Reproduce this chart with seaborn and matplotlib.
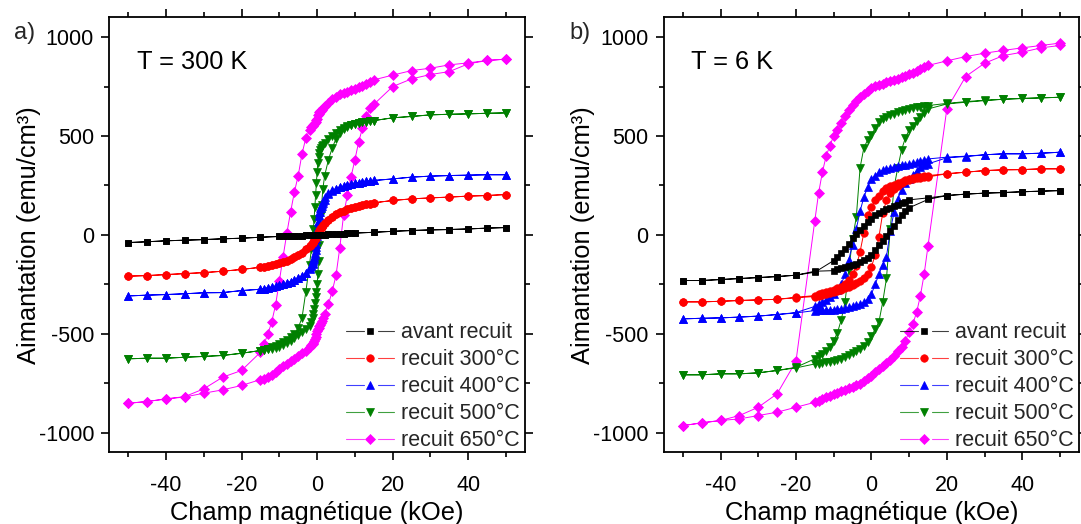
import numpy as np
import matplotlib
matplotlib.use("Agg")
import matplotlib.pyplot as plt
from matplotlib.ticker import MultipleLocator
from matplotlib.legend_handler import HandlerBase
from matplotlib.lines import Line2D
import seaborn as sns

nan = np.nan

# ---------------- field grids (kOe), descending order ----------------
H_A = [50, 45, 40, 35, 30, 25, 20, 15,
       14, 13, 12, 11, 10, 9, 8, 7, 6, 5, 4, 3, 2,
       1.5,
       1.2, 1.0, 0.8, 0.6, 0.4, 0.2, 0.0, -0.2, -0.4, -0.6, -0.8, -1.0, -1.2,
       -1.5,
       -2, -3, -4, -5, -6, -7, -8, -9, -10, -11, -12, -13, -14,
       -15, -20, -25, -30, -35, -40, -45, -50]

H_B = [50, 45, 40, 35, 30, 25, 20, 15,
       14, 13, 12, 11, 10, 9, 8, 7, 6, 5, 4, 3, 2, 1,
       0,
       -1, -2, -3, -4, -5, -6, -7, -8, -9, -10, -11, -12, -13, -14,
       -15, -20, -25, -30, -35, -40, -45, -50]

labels = ["avant recuit", "recuit 300°C", "recuit 400°C", "recuit 500°C", "recuit 650°C"]

# ---------------- panel a) T = 300 K  (emu/cm3) ----------------
# "down" follows H_A ; "up" follows H_A reversed (ascending field)
a_black_down = [37, 34, 30, 27, 25, 22, 18, 13,
                nan, nan, nan, nan, 9, 8, 7, 6, 5, 4, 3, 2.5, 1.8,
                1.3,
                1.1, 0.9, 0.7, 0.5, 0.3, 0.1, 0, -0.2, -0.4, -0.6, -0.8, -1, -1.1,
                -1.4,
                -1.8, -2.5, -3.3, -4.1, -5, -5.8, -6.6, -7.4, -8.2, nan, nan, nan, nan,
                -12, -17, -20, -24, -27, -30, -35, -39]
a_black_up = [-39, -35, -30, -27, -24, -20, -17, -12,
              nan, nan, nan, nan, -8, -7.4, -6.6, -5.8, -5, -4.1, -3.3, -2.5, -1.8,
              -1.4,
              -1.1, -1, -0.8, -0.6, -0.4, -0.2, 0, 0.1, 0.3, 0.5, 0.7, 0.9, 1.1,
              1.3,
              1.8, 2.5, 3, 4, 5, 6, 7, 8, 9, nan, nan, nan, nan,
              13, 18, 22, 25, 27, 30, 34, 37]

a_red_down = [204, 199, 196, 191, 187, 182, 174, 162,
              158, 155, 151, 146, 141, 135, 129, 122, 114, 103, 91, 76, 60,
              50,
              42, 36, 29, 22, 15, 7, 0, -7, -14, -21, -28, -35, -41,
              -50,
              -56, -72, -90, -103, -113, -121, -130, -137, -143, -149, -154, -158, -161,
              -164, -175, -184, -191, -196, -201, -206, -209]
a_red_up = [-209, -206, -201, -196, -191, -184, -175, -164,
            -161, -158, -154, -149, -143, -137, -130, -121, -113, -103, -90, -72, -58,
            -50,
            -42, -36, -29, -22, -15, -7, 0, 7, 14, 21, 28, 35, 41,
            49,
            59, 76, 91, 103, 114, 122, 129, 135, 141, 146, 151, 155, 158,
            162, 174, 182, 187, 191, 196, 199, 204]

a_blue_down = [304, 304, 302, 300, 297, 292, 283, 275,
               272, 270, 267, 264, 260, 256, 251, 246, 240, 233, 225, 210, 190,
               172,
               158, 147, 135, 118, 95, 65, 25, -20, -60, -90, -112, -128, -140,
               -155,
               -170, -192, -208, -220, -228, -237, -244, -250, -255, -260, -264, -268, -272,
               -275, -282, -292, -293, -298, -302, -305, -309]
a_blue_up = [-309, -305, -302, -298, -293, -292, -282, -275,
             -272, -268, -264, -260, -255, -250, -244, -237, -228, -220, -208, -194, -172,
             -158,
             -145, -133, -120, -102, -78, -45, -5, 38, 72, 98, 118, 135, 147,
             160,
             178, 205, 222, 232, 240, 246, 251, 256, 260, 264, 267, 270, 273,
             275, 283, 292, 297, 300, 302, 304, 304]

a_green_down = [617, 615, 612, 610, 607, 599, 592, 578,
                576, 573, 570, 566, 562, 556, 550, 543, 530, 517, 502, 485, 465,
                455,
                448, 440, 430, 415, 395, 365, 320, 260, 200, 140, 80, 30, -20,
                -70,
                -150, -290, -420, -470, -500, -515, -530, -540, -553, -560, -568, -575, -580,
                -585, -599, -610, -615, -619, -624, -624, -627]
a_green_up = [-627, -624, -624, -619, -615, -610, -599, -585,
              -582, -578, -575, -570, -565, -558, -548, -535, -520, -505, -490, -477, -460,
              -440,
              -420, -400, -375, -345, -315, -290, -250, -200, -130, -50, 30, 100, 150,
              230,
              300, 380, 440, 486, 515, 535, 548, 556, 562, 566, 570, 573, 576,
              578, 592, 599, 607, 610, 612, 615, 617]

a_pink_down = [889, 882, 870, 860, 843, 831, 808, 784,
               772, 763, 755, 746, 738, 731, 724, 717, 710, 699, 686, 668, 650,
               640,
               632, 628, 624, 620, 612, 604, 588, 580, 572, 566, 561, 556, 552,
               545,
               528, 488, 410, 300, 218, 118, 10, -110, -235, -355, -440, -500, -550,
               -594, -686, -720, -779, -818, -830, -843, -852]
a_pink_up = [-852, -843, -830, -820, -801, -784, -762, -732,
             -727, -720, -708, -693, -680, -665, -652, -640, -626, -613, -600, -586, -568,
             -558,
             -550, -545, -537, -528, -518, -502, -486, -478, -470, -462, -455, -445, -435,
             -420,
             -400, -350, -285, -205, -65, 100, 200, 295, 380, 470, 540, 600, 640,
             660, 750, 789, 811, 826, 865, 882, 889]

# ---------------- panel b) T = 6 K  (emu/cm3) ----------------
b_black_down = [224, 221, 218, 214, 211, 206, 199, 187,
                nan, nan, nan, nan, 177, 168, 160, 153, 145, 137, 130, 121, 112, 98,
                82,
                66, 45, 25, 5, -18, -48, -70, -92, -112, -130, nan, nan, nan, nan,
                -189, -204, -211, -216, -221, -226, -231, -231]
b_black_up = [-231, -231, -226, -221, -216, -211, -204, -184,
              nan, nan, nan, nan, -181, -175, -170, -165, -158, -152, -145, -138, -128, -115,
              -100,
              -75, -52, -30, -5, 20, 45, 75, 100, 120, 137, nan, nan, nan, nan,
              179, 199, 206, 211, 214, 218, 221, 224]

b_red_down = [334, 334, 330, 329, 325, 317, 309, 300,
              298, 295, 291, 287, 282, 276, 268, 260, 253, 245, 235, 220, 198, 175,
              140,
              100, 10, -85, -160, -200, -230, -250, -262, -270, -277, -283, -290, -296, -301,
              -307, -316, -326, -329, -332, -336, -339, -339]
b_red_up = [-339, -339, -336, -332, -329, -326, -318, -312,
            -308, -304, -300, -296, -291, -285, -278, -270, -262, -254, -245, -234, -218, -197,
            -164,
            -100, -10, 110, 175, 210, 232, 248, 260, 270, 277, 282, 286, 289, 291,
            293, 309, 317, 325, 329, 330, 334, 334]

b_blue_down = [418, 413, 410, 410, 405, 398, 393, 384,
               380, 375, 367, 362, 358, 355, 352, 349, 344, 338, 333, 327, 318, 300,
               283,
               241, 190, 120, 30, -50, -125, -200, -250, -280, -300, -315, -330, -340, -350,
               -362, -393, -403, -411, -416, -420, -422, -425]
b_blue_up = [-425, -422, -420, -416, -411, -403, -395, -383,
             -382, -381, -380, -379, -378, -376, -374, -371, -367, -362, -356, -350, -341, -325,
             -300,
             -250, -200, -150, -110, 20, 115, 182, 228, 262, 285, 303, 325, 342, 352,
             359, 390, 396, 405, 410, 410, 413, 418]

b_green_down = [696, 693, 690, 686, 681, 674, 665, 654,
                652, 649, 646, 643, 638, 633, 627, 620, 613, 605, 596, 585, 570, 540,
                505,
                480, 440, 340, 90, -20, -180, -340, -430, -495, -535, -565, -585, -602, -615,
                -627, -670, -686, -698, -703, -703, -708, -708]
b_green_up = [-708, -708, -703, -703, -698, -686, -673, -653,
              -651, -648, -645, -641, -637, -632, -626, -619, -610, -600, -588, -575, -560, -543,
              -510,
              -478, -440, -340, -220, 30, 240, 340, 430, 490, 530, 553, 575, 595, 615,
              637, 662, 671, 679, 686, 690, 693, 696]

b_pink_down = [970, 958, 946, 933, 919, 902, 880, 857,
               847, 839, 830, 820, 812, 805, 797, 789, 783, 777, 771, 765, 759, 752,
               745,
               730, 714, 697, 678, 657, 632, 603, 568, 530, 500, 452, 398, 317, 211,
               72, -640, -804, -872, -914, -939, -951, -965]
b_pink_up = [-965, -951, -939, -931, -914, -897, -872, -847,
             -840, -832, -822, -814, -806, -798, -792, -785, -776, -768, -760, -752, -740, -726,
             -712,
             -695, -680, -665, -650, -632, -612, -590, -565, -535, -492, -450, -391, -307, -197,
             -57, 637, 801, 868, 907, 924, 946, 958]

# ---------------- styling ----------------
sns.set_style("ticks")
plt.rcParams["font.family"] = ["Liberation Sans", "DejaVu Sans"]
plt.rcParams["axes.unicode_minus"] = False

colors = ["#000000", "#ff0000", "#0000ff", "#008000", "#ff00ff"]
markers = ["s", "o", "^", "v", "D"]
msizes = [4.8, 5.4, 6.2, 6.2, 5.0]
zorders = [6, 5, 4, 3, 2]

panel_a = [(a_black_down, a_black_up), (a_red_down, a_red_up), (a_blue_down, a_blue_up),
           (a_green_down, a_green_up), (a_pink_down, a_pink_up)]
panel_b = [(b_black_down, b_black_up), (b_red_down, b_red_up), (b_blue_down, b_blue_up),
           (b_green_down, b_green_up), (b_pink_down, b_pink_up)]

for H, pan in ((H_A, panel_a), (H_B, panel_b)):
    for d, u in pan:
        assert len(d) == len(H) and len(u) == len(H), (len(H), len(d), len(u))


class GapHandler(HandlerBase):
    def create_artists(self, legend, orig_handle, xdescent, ydescent,
                       width, height, fontsize, trans):
        y = (height - ydescent) / 2
        x0 = -xdescent
        x1 = width - xdescent
        w = x1 - x0
        c = orig_handle.get_color()
        lw = orig_handle.get_linewidth()
        l1 = Line2D([x0, x0 + 0.37 * w], [y, y], color=c, lw=lw, alpha=0.75)
        l2 = Line2D([x1 - 0.33 * w, x1], [y, y], color=c, lw=lw, alpha=0.75)
        m = Line2D([x0 + 0.5 * w], [y], marker=orig_handle.get_marker(),
                   markersize=orig_handle.get_markersize(), color=c,
                   markeredgewidth=0.5, linestyle="none")
        for a in (l1, l2, m):
            a.set_transform(trans)
        return [l1, l2, m]


fig = plt.figure(figsize=(10.81, 5.24), dpi=100)
ax_a = fig.add_axes([0.1011, 0.1368, 0.3845, 0.830])
ax_b = fig.add_axes([0.6142, 0.1368, 0.3838, 0.830])


def draw_panel(ax, H, pan, temp_text):
    for i, (down, up) in enumerate(pan):
        x = list(H) + list(H[::-1])
        y = list(down) + list(up)
        sns.lineplot(x=x, y=y, sort=False, estimator=None, ax=ax,
                     color=colors[i], marker=markers[i], markersize=msizes[i],
                     markeredgewidth=0.5, markeredgecolor=colors[i],
                     linewidth=0.7, zorder=zorders[i], legend=False)
    ax.set_xlim(-55, 55)
    ax.set_ylim(-1100, 1100)
    ax.xaxis.set_major_locator(MultipleLocator(20))
    ax.xaxis.set_minor_locator(MultipleLocator(10))
    ax.yaxis.set_major_locator(MultipleLocator(500))
    ax.yaxis.set_minor_locator(MultipleLocator(250))
    ax.tick_params(which="both", direction="out", top=True, right=True,
                   labelsize=15.5, width=1.2, color="#000000", labelcolor="#000000")
    ax.tick_params(which="major", length=6)
    ax.tick_params(axis="x", which="major", pad=10)
    ax.tick_params(axis="y", which="major", pad=5)
    ax.tick_params(which="minor", length=3.5)
    for s in ax.spines.values():
        s.set_linewidth(1.3)
        s.set_color("#000000")
        s.set_visible(True)
    ax.set_xlabel("Champ magnétique (kOe)", fontsize=18.4, color="#000000")
    ax.set_ylabel("Aimantation (emu/cm³)", fontsize=18.4, color="#000000")
    ax.xaxis.set_label_coords(0.5, -0.112)
    ax.yaxis.set_label_coords(-0.165, 0.5)
    ax.text(0.066, 0.898, temp_text, transform=ax.transAxes, fontsize=18.3,
            ha="left", va="center", color="#000000")
    handles = [Line2D([], [], color=colors[i], marker=markers[i],
                      markersize=msizes[i], lw=0.8) for i in range(5)]
    ax.legend(handles, labels, handler_map={Line2D: GapHandler()},
              loc="upper left", bbox_to_anchor=(0.569, 0.2995), frameon=False,
              fontsize=15.5, handlelength=2.25, handletextpad=0.3,
              labelspacing=0.28, borderpad=0, borderaxespad=0)


draw_panel(ax_a, H_A, panel_a, "T = 300 K")
draw_panel(ax_b, H_B, panel_b, "T = 6 K")

fig.text(0.0128, 0.937, "a)", fontsize=17, ha="left", va="center")
fig.text(0.5267, 0.937, "b)", fontsize=17, ha="left", va="center")

fig.savefig("out.png", dpi=100)
